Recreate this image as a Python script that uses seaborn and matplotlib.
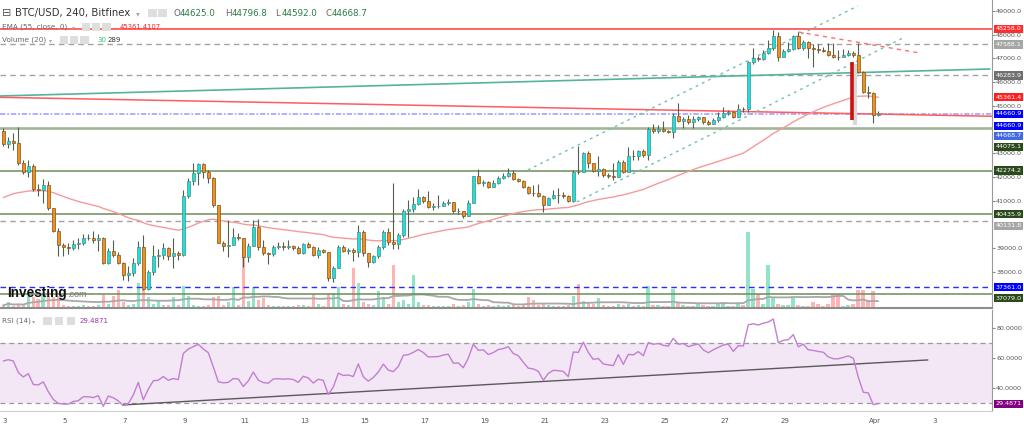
import numpy as np
import pandas as pd
import matplotlib
matplotlib.use("Agg")
import matplotlib.pyplot as plt
import matplotlib.transforms as mtrans
from matplotlib.patches import Rectangle
import seaborn as sns

sns.set_style("white")
plt.rcParams['font.family'] = ['DejaVu Sans']

# ---------------- data ----------------
first_open = 43943.0
closes = [
    43395, 43522, 43438, 42595, 42215, 42468, 41500, 41457, 41668, 40698,
    39729, 39140, 39055, 39030, 39182, 39224, 39435, 39420, 39350, 39435,
    38380, 38886, 38718, 38395, 37875, 37960, 38380, 39070, 37285, 38014,
    38676, 38718, 39013, 38676, 38802, 38718, 41204, 41836, 42186, 42553,
    42228, 41962, 40825, 39236, 39097, 39140, 39477, 39435, 38647, 39097,
    39900, 39070, 38802, 38740, 39070, 39097, 39055, 39083, 39027, 38815,
    39182, 39070, 38718, 38929, 38857, 37762, 38170, 39070, 38900, 38929,
    38830, 39700, 38790, 38436, 38676, 39070, 39700, 39280, 39170, 39561,
    40572, 40642, 40867, 41150, 40993, 40753, 40770, 40783, 40896, 40950,
    40560, 40572, 40362, 40922, 42047, 41765, 41807, 41596, 41740, 41975,
    42047, 42186, 41933, 41850, 41596, 41345, 41318, 41218, 40825, 41107,
    41246, 41230, 41204, 41006, 42228, 42215, 43003, 42582, 42270, 42330,
    42089, 42047, 42017, 42650, 42228, 42890, 42870, 43100, 42932, 44015,
    43943, 44015, 43943, 43915, 44588, 44365, 44436, 44322, 44436, 44520,
    44330, 44238, 44407, 44547, 44690, 44744, 44547, 44857, 44850, 46838,
    47007, 46965, 47243, 47428, 47947, 47074, 47314, 47386, 47947, 47428,
    47681, 47428, 47400, 47357, 47327, 47146, 47074, 47070, 47146, 47218,
    47146, 46443, 45600, 45557, 44625, 44668.7]
highs = [
    44070, 43690, 43859, 44112, 42721, 42721, 42553, 41710, 41920, 41836,
    40698, 39856, 39224, 39224, 39350, 39435, 39603, 39603, 39729, 39603,
    39477, 39013, 39350, 38844, 38423, 38254, 38592, 39308, 39561, 38086,
    39140, 38971, 39224, 39055, 39435, 38886, 41457, 41962, 42595, 42595,
    42595, 42300, 42005, 40825, 39308, 40193, 39856, 39645, 39435, 39224,
    40193, 40235, 39350, 38844, 39140, 39266, 39266, 39350, 39140, 39097,
    39224, 39266, 39097, 39055, 38971, 38844, 38254, 39140, 39140, 39013,
    39013, 39982, 39771, 38802, 38718, 39140, 39771, 39856, 41752, 39645,
    40656, 41035, 41162, 41499, 41204, 41415, 40909, 41246, 40993, 41078,
    40950, 40698, 40572, 41035, 42047, 42342, 41878, 41836, 41878, 42047,
    42173, 42384, 42300, 41962, 41878, 41626, 41668, 41710, 41246, 41162,
    41457, 41541, 41373, 41246, 42300, 43324, 43058, 43100, 42595, 42890,
    42384, 42173, 42595, 42721, 42721, 43269, 43143, 43143, 43185, 44112,
    44238, 44196, 44365, 43985, 44702, 45123, 44533, 44617, 44575, 44575,
    44533, 44407, 44491, 44744, 44954, 44828, 44786, 45081, 44954, 46893,
    47441, 47104, 47357, 47778, 48199, 48115, 47399, 47694, 47989, 48128,
    47778, 47736, 47609, 47609, 47483, 47652, 47664, 47357, 47399, 47357,
    47314, 47664, 46472, 45840, 45587, 44796.8]
lows = [
    43310, 43227, 43143, 42510, 42131, 42005, 41415, 41204, 40909, 40614,
    39687, 38676, 38676, 38760, 38929, 38971, 39140, 39350, 39224, 38886,
    38338, 38338, 38634, 38338, 37664, 37622, 37833, 38296, 37243, 37243,
    37875, 38225, 38550, 38508, 38170, 38508, 38676, 41120, 41668, 41668,
    41962, 41752, 40740, 39224, 38886, 38634, 39140, 39350, 38212, 38423,
    39097, 38929, 38718, 38338, 38676, 38971, 38929, 38971, 38929, 38760,
    38760, 39013, 38676, 38592, 38802, 37622, 37580, 38170, 38844, 38760,
    38465, 38634, 38676, 38212, 38380, 38592, 38971, 39140, 38971, 38971,
    39477, 39477, 40530, 40825, 40909, 40698, 40614, 40698, 40783, 40825,
    40488, 40446, 40277, 40362, 40909, 41710, 41626, 41541, 41583, 41710,
    41920, 42005, 41878, 41794, 41541, 41288, 41204, 41162, 40543, 40825,
    41080, 40909, 41120, 40950, 40950, 42131, 42215, 42384, 42215, 42047,
    42005, 41962, 41878, 42005, 42173, 42215, 42721, 42721, 42848, 42721,
    43859, 43859, 43901, 43859, 43648, 44322, 44070, 44238, 44070, 44365,
    44238, 44196, 44238, 44322, 44491, 44617, 44491, 44533, 44744, 44744,
    46767, 46893, 46935, 47200, 47357, 46893, 47062, 47272, 47357, 47399,
    47357, 47007, 46653, 47230, 47272, 47104, 47020, 46935, 47062, 47104,
    47062, 46387, 45545, 45334, 44280, 44592.0]
volumes = [
    100, 200, 80, 150, 100, 450, 380, 330, 500, 450,
    380, 450, 100, 80, 60, 80, 100, 60, 70, 100,
    470, 150, 450, 650, 200, 100, 150, 900, 650, 400,
    150, 300, 100, 100, 400, 100, 780, 450, 100, 80,
    80, 100, 400, 420, 100, 200, 760, 100, 2500, 250,
    750, 300, 350, 100, 80, 60, 60, 60, 80, 100,
    100, 80, 500, 150, 80, 550, 550, 750, 150, 100,
    1450, 900, 200, 150, 100, 600, 400, 150, 1550, 200,
    300, 150, 1200, 200, 100, 100, 80, 60, 60, 80,
    150, 80, 100, 200, 700, 150, 80, 100, 80, 100,
    80, 100, 100, 80, 150, 400, 300, 100, 150, 100,
    80, 60, 60, 100, 430, 850, 250, 200, 150, 360,
    100, 80, 80, 150, 100, 150, 60, 100, 80, 800,
    100, 100, 80, 80, 700, 200, 100, 80, 80, 180,
    100, 80, 80, 150, 200, 80, 60, 150, 100, 2750,
    700, 500, 150, 1550, 400, 150, 100, 100, 360, 100,
    80, 60, 230, 150, 60, 150, 500, 500, 80, 100,
    150, 650, 650, 280, 620, 30]

ema_seed = 41050.0          # EMA value at the left edge
rsi_seed_gain, rsi_seed_loss = 300.0, 175.0

day_labels = ["3", "5", "7", "9", "11", "13", "15", "17", "19", "21", "23",
              "25", "27", "29", "Apr", "3"]
day_offsets = [0, 2, 4, 6, 8, 10, 12, 14, 16, 18, 20, 22, 24, 26, 29, 31]  # days since Mar 3

price_ticks = [38000, 39000, 41000, 42000, 43000, 45000, 46000, 47000, 48000, 49000]

level_red = 48258.0
levels_gray_dash = [47588.1, 46283.9, 40131.8]
levels_green = [42274.2, 40435.9, 37079.0]
level_green_thick = 44075.1
level_blue_dashdot = 44660.9
level_blue_dash = 37361.0

teal_line = ([-0.66, 197.3], [45418, 46556])
red_line = ([-0.66, 197.74], [45363, 44563])
channel_upper = ([104.9, 170.9], [42300, 49211])
channel_lower = ([114.7, 180.3], [40951, 47904])
red_dash_line = ([159.0, 183.3], [48115, 47230])
red_bar = (169.7, 44407, 46851)
rsi_trend = ([23.9, 184.9], [28.7, 58.7])
rsi_last = 29.4871

# right-side price boxes: (text, price where it is shown, colour)
price_boxes = [
    ("48258.0", 48258.0, "#ff2d2d"),
    ("47588.1", 47588.1, "#a6a6a6"),
    ("46283.9", 46283.9, "#6f6f6f"),
    ("45361.4", 45361.4, "#ff1f1f"),
    ("44660.9", 44660.9, "#0000ff"),
    ("44660.9", 44170.0, "#0000ff"),
    ("44668.7", 43745.0, "#4169e1"),
    ("44075.1", 43280.0, "#2b4a1c"),
    ("42274.2", 42274.2, "#2b4a1c"),
    ("40435.9", 40435.9, "#2b4a1c"),
    ("40131.8", 39940.0, "#a6a6a6"),
    ("37361.0", 37361.0, "#0000ff"),
    ("37079.0", 36900.0, "#2b4a1c"),
]

# ---------------- derived ----------------
n = len(closes)
idx = np.arange(n)
closes_a = np.array(closes, float)
opens_a = np.array([first_open] + closes[:-1], float)
highs_a = np.maximum(np.array(highs, float), np.maximum(opens_a, closes_a))
lows_a = np.minimum(np.array(lows, float), np.minimum(opens_a, closes_a))
up = closes_a >= opens_a

ema = pd.Series([ema_seed] + closes).ewm(span=55, adjust=False).mean().iloc[1:].values
vol_ma = pd.Series(volumes).rolling(20, min_periods=1).mean().values

ag, al = rsi_seed_gain, rsi_seed_loss
rsi = []
for d in closes_a - opens_a:
    ag = (ag * 13 + max(d, 0)) / 14
    al = (al * 13 + max(-d, 0)) / 14
    rsi.append(100 - 100 / (1 + ag / al))
rsi = np.array(rsi)

# ---------------- figure ----------------
W, H = 1024, 429
fig = plt.figure(figsize=(W / 100, H / 100), dpi=100, facecolor="white")
main_rect = [0, 1 - 308 / H, 992 / W, 308 / H]
ax_vol = fig.add_axes(main_rect)
ax = fig.add_axes(main_rect, sharex=ax_vol)
ax_rsi = fig.add_axes([0, 1 - 411 / H, 992 / W, 101 / H], sharex=ax_vol)
ax.patch.set_alpha(0)

XL = (-0.66, 197.74)
TICK_FS = 4.6

# volume
vol_cols = np.where(up, "#93e4c6", "#ffb4b4")
ax_vol.bar(idx, volumes, width=0.72, color=vol_cols, edgecolor="none")
sns.lineplot(x=idx, y=vol_ma, ax=ax_vol, color="#a8a8a8", lw=1.3)
ax_vol.set_ylim(0, 11100)
ax_vol.set_axis_off()

# levels
ax.axhline(level_red, color="#ff3b3b", lw=1.1, zorder=2)
for lv in levels_gray_dash:
    ax.axhline(lv, color="#a3a3a3", lw=1.0, ls=(0, (4, 3)), zorder=2)
for lv in levels_green:
    ax.axhline(lv, color="#6e8c5e", lw=1.1, zorder=2)
ax.axhline(level_green_thick, color="#a3b598", lw=1.9, zorder=2)
ax.axhline(level_blue_dashdot, color="#8c8cff", lw=1.3, ls=(0, (3, 1, 1, 1)), alpha=0.75, zorder=2)
ax.axhline(level_blue_dash, color="#2b2bff", lw=1.0, ls=(0, (4, 3)), zorder=2)

ax.plot(*teal_line, color="#55b39d", lw=1.2, zorder=2)
ax.plot(*red_line, color="#ff5c5c", lw=1.1, zorder=2)
ax.plot(*channel_upper, color="#72c2ab", lw=1.0, ls=(0, (2, 3)), zorder=2)
ax.plot(*channel_lower, color="#72c2ab", lw=1.0, ls=(0, (2, 3)), zorder=2)
ax.plot(*red_dash_line, color="#ff7070", lw=1.0, ls=(0, (3, 3)), zorder=2)

sns.lineplot(x=idx, y=ema, ax=ax, color="#f59a9a", lw=1.0, zorder=2.5)

# red marker bar with shadow
bx, by0, by1 = red_bar
ax.vlines(bx + 0.55, by0 - 200, by1 - 100, color="#d8d8d8", lw=3, zorder=2.6)
ax.vlines(bx, by0, by1, color="#cc1111", lw=2.6, zorder=2.7)

# candles
ax.vlines(idx, lows_a, highs_a, color="#4f5f50", lw=0.8, zorder=3)
body_bottom = np.minimum(opens_a, closes_a)
body_h = np.maximum(np.abs(closes_a - opens_a), 12)
ax.bar(idx, body_h, bottom=body_bottom, width=0.7,
       color=np.where(up, "#16e3df", "#f3901a"),
       edgecolor=np.where(up, "#4f8a80", "#7d5220"), linewidth=0.5, zorder=4)

ax.set_xlim(*XL)
ax.set_ylim(36482.6, 49463.6)
ax.set_xlabel("")
ax.set_ylabel("")
ax.yaxis.tick_right()
ax.set_yticks(price_ticks)
ax.set_yticklabels([f"{v:.1f}" for v in price_ticks])
ax.tick_params(axis="y", length=2, color="#888888", labelsize=TICK_FS, labelcolor="#555555", pad=1)
ax.tick_params(axis="x", bottom=False, labelbottom=False)
for s in ["top", "left"]:
    ax.spines[s].set_visible(False)
ax.spines["right"].set_color("#9a9a9a")
ax.spines["bottom"].set_color("#8c8c8c")
ax.spines["bottom"].set_linewidth(1.5)

blend = mtrans.blended_transform_factory(ax.transAxes, ax.transData)
for txt, p, col in price_boxes:
    ax.text(1.0035, p, txt, transform=blend, fontsize=TICK_FS, color="white", va="center",
            ha="left", clip_on=False, zorder=10,
            bbox=dict(boxstyle="square,pad=0.25", fc=col, ec="none"))

# RSI
ax_rsi.axhspan(30, 70, color="#f3e6f5", lw=0, zorder=0)
ax_rsi.axhline(70, color="#9a9a9a", lw=0.9, ls=(0, (4, 3)))
ax_rsi.axhline(30, color="#9a9a9a", lw=0.9, ls=(0, (4, 3)))
ax_rsi.plot(*rsi_trend, color="#5a5a5a", lw=1.0)
sns.lineplot(x=idx, y=rsi, ax=ax_rsi, color="#c27fd1", lw=1.0)
ax_rsi.set_ylim(24.67, 92)
ax_rsi.set_xlim(*XL)
ax_rsi.set_xlabel("")
ax_rsi.set_ylabel("")
ax_rsi.yaxis.tick_right()
ax_rsi.set_yticks([40, 60, 80])
ax_rsi.set_yticklabels(["40.0000", "60.0000", "80.0000"])
ax_rsi.tick_params(axis="y", length=2, color="#888888", labelsize=TICK_FS, labelcolor="#555555", pad=1)
tick_pos = [6 * d + 0.3 for d in day_offsets]
ax_rsi.set_xticks(tick_pos)
ax_rsi.set_xticklabels(day_labels)
ax_rsi.tick_params(axis="x", length=2, color="#999999", labelsize=5, labelcolor="#555555", pad=3)
for s in ["top", "left"]:
    ax_rsi.spines[s].set_visible(False)
ax_rsi.spines["right"].set_color("#9a9a9a")
ax_rsi.spines["bottom"].set_color("#cfcfcf")
blend_r = mtrans.blended_transform_factory(ax_rsi.transAxes, ax_rsi.transData)
ax_rsi.text(1.0035, rsi_last, f"{rsi_last:.4f}", transform=blend_r, fontsize=TICK_FS,
            color="white", va="center", ha="left", clip_on=False, zorder=10,
            bbox=dict(boxstyle="square,pad=0.25", fc="#800080", ec="none"))

# ---------------- header texts ----------------
def ftext(x, y, s, size, color, **kw):
    fig.text(x / W, 1 - y / H, s, fontsize=size, color=color, va="center", ha="left", **kw)

def icon(x0, x1, y0, y1):
    fig.add_artist(Rectangle((x0 / W, 1 - y1 / H), (x1 - x0) / W, (y1 - y0) / H,
                             transform=fig.transFigure, fc="#dedede", ec="none"))

ftext(2, 13, "⊟", 8, "#555555")
ftext(15, 13, "BTC/USD, 240, Bitfinex", 7.3, "#333333")
ftext(136, 14, "▾", 5.5, "#aaaaaa")
icon(148, 157, 9, 17)
icon(158, 167, 9, 17)
for letter, lx, val in [("O", 173, "44625.0"), ("H", 225, "44796.8"),
                        ("L", 275, "44592.0"), ("C", 325, "44668.7")]:
    ftext(lx, 13, letter, 6.3, "#666666")
    ftext(lx + 7, 13, val, 6.3, "#2e7a46")

ftext(2, 27, "EMA (55, close, 0)", 5.2, "#666666")
ftext(72, 28, "▾", 4.5, "#aaaaaa")
icon(82, 90, 23, 31); icon(92, 100, 23, 31); icon(102, 111, 23, 31)
ftext(120, 27, "45361.4107", 4.9, "#ff2222")

ftext(2, 40, "Volume (20)", 5.2, "#666666")
ftext(49, 41, "▾", 4.5, "#aaaaaa")
icon(60, 68, 36, 44); icon(70, 78, 36, 44); icon(80, 89, 36, 44)
ftext(97, 40, "30", 5.0, "#33c27a")
ftext(108, 40, "289", 5.0, "#333333")

ftext(2, 321, "RSI (14)", 5.2, "#666666")
ftext(32, 322, "▾", 4.5, "#aaaaaa")
icon(43, 52, 317, 325); icon(55, 63, 317, 325); icon(67, 75, 317, 325)
ftext(80, 321, "29.4871", 5.0, "#9b30b0")

fig.text(7 / W, 1 - 292.5 / H, "Investing", fontsize=9.8, fontweight="bold",
         family=["Liberation Sans", "DejaVu Sans"], color="#111111", va="center", ha="left")
fig.text(67 / W, 1 - 294.5 / H, ".com", fontsize=6.5,
         family=["Liberation Sans", "DejaVu Sans"], color="#777777", va="center", ha="left")

fig.savefig("out.png", dpi=100, facecolor="white")
